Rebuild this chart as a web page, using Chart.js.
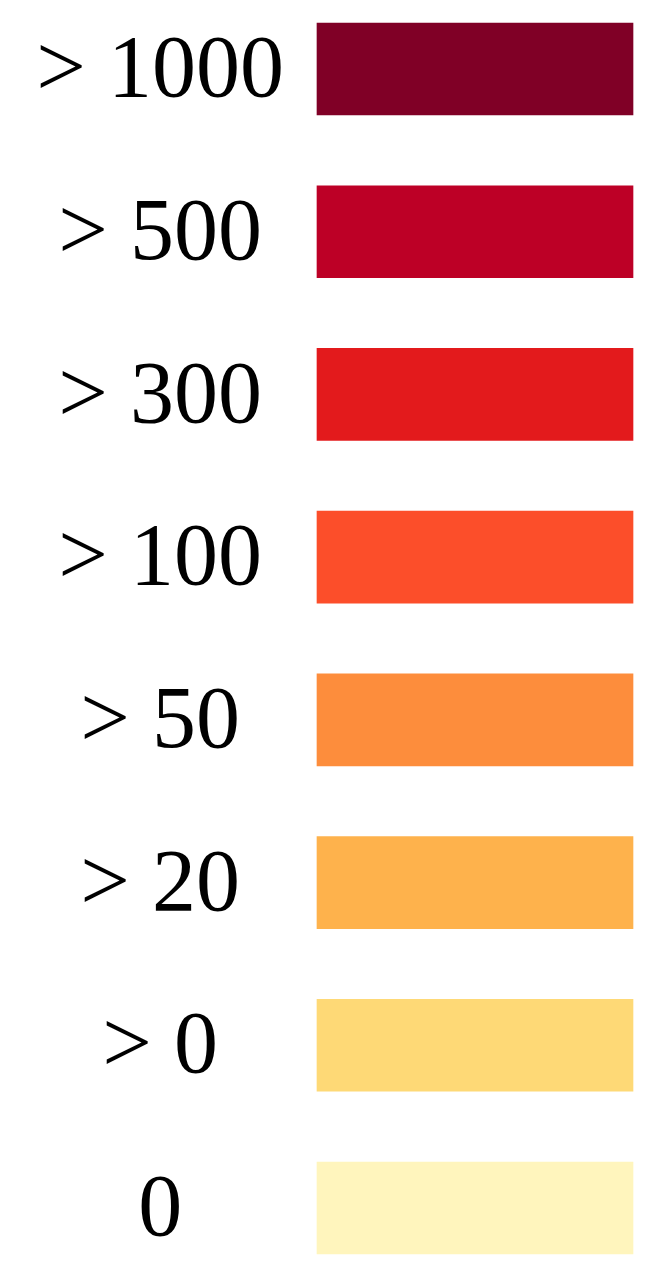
<!DOCTYPE html>
<html>
<head>
<meta charset="utf-8">
<script src="https://cdn.jsdelivr.net/npm/chart.js"></script>
<style>
html,body{margin:0;padding:0;background:#ffffff;}
#wrap{width:671px;height:1270px;position:relative;}
</style>
</head>
<body>
<div id="wrap"><canvas id="c"></canvas></div>
<script>
const categories = ["> 1000", "> 500", "> 300", "> 100", "> 50", "> 20", "> 0", "0"];
const values = [1, 1, 1, 1, 1, 1, 1, 1];
const colors = ["#800026", "#bd0026", "#e31a1c", "#fc4e2a", "#fd8d3c", "#feb24c", "#fed976", "#fff5bd"];

new Chart(document.getElementById('c'), {
  type: 'bar',
  data: {
    labels: categories,
    datasets: [{
      data: values,
      backgroundColor: colors,
      borderWidth: 0,
      barThickness: 92,
      clip: false
    }]
  },
  options: {
    indexAxis: 'y',
    responsive: true,
    maintainAspectRatio: false,
    animation: false,
    layout: { padding: { top: 69, bottom: 62, right: 38, left: 0 } },
    plugins: { legend: { display: false }, tooltip: { enabled: false } },
    scales: {
      x: { display: false, min: 0, max: 1 },
      y: {
        offset: false,
        grid: { display: false, drawTicks: false },
        border: { display: false },
        afterFit: function(scale) {
          scale.width = 317;
          scale.paddingTop = 0;
          scale.paddingBottom = 0;
        },
        ticks: {
          color: '#000000',
          crossAlign: 'center',
          padding: 33,
          labelOffset: 4,
          font: { family: 'Liberation Serif', size: 88 }
        }
      }
    }
  }
});
</script>
</body>
</html>
